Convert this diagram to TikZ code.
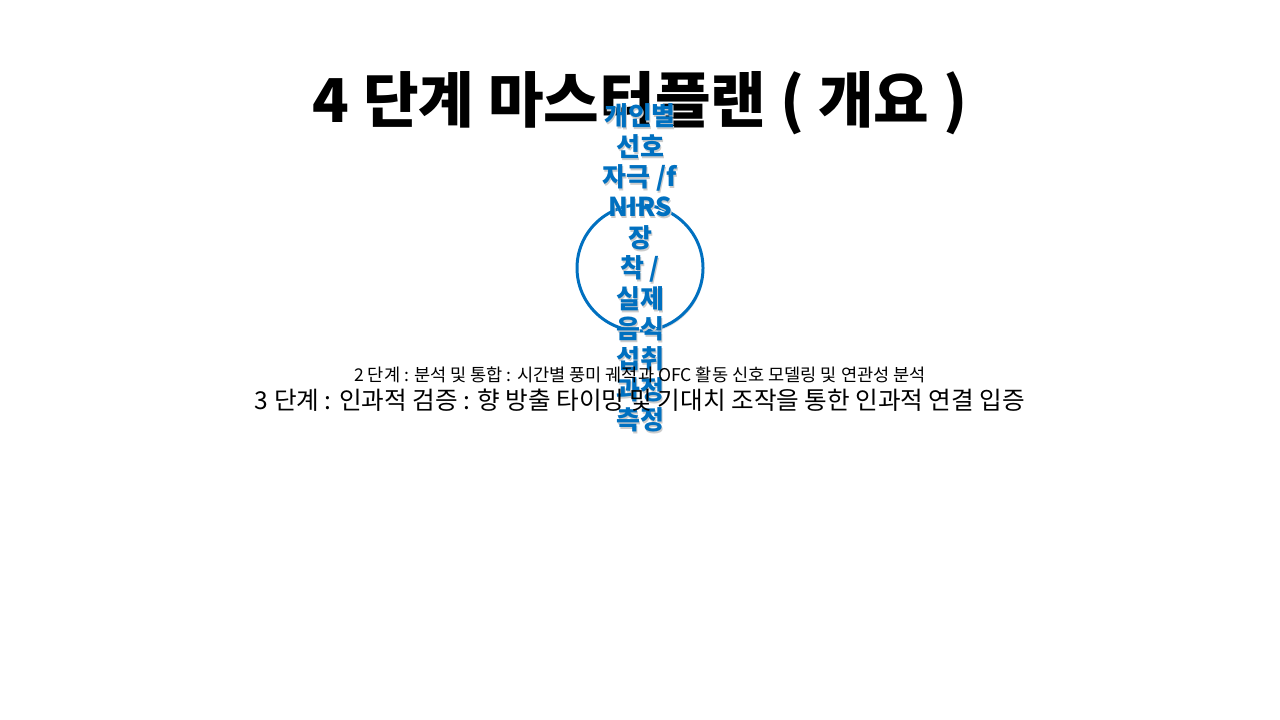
\documentclass[tikz,border=0pt]{standalone}
\usepackage{fontspec}
\setmainfont{Noto Sans CJK KR}
\usetikzlibrary{shadows}
\definecolor{stepblue}{HTML}{0070C0}

\begin{document}
\begin{tikzpicture}[x=1cm,y=1cm]
  \useasboundingbox (0,0) rectangle (12.8,7.2);
  \tikzset{
    phasetext/.style={font=\fontsize{7.0}{8}\selectfont, text=black},
    circletext/.style={font=\fontsize{7.4}{8.65}\selectfont\bfseries, align=center, text=stepblue}
  }

  % title
  \node[font=\fontsize{17.2}{19}\selectfont\bfseries] (title) at (6.4,6.17) {4 단계 마스터플랜 ( 개요 )};

  % step 1 circle
  \node[circle, draw=stepblue, line width=0.85pt, minimum size=1.26cm, fill=white,
        drop shadow={opacity=0.25, shadow xshift=0.3pt, shadow yshift=-0.6pt}] (stepone) at (6.4,4.52) {};
  \node[circletext, text=black!20] at (6.41,4.50) {개인별\\선호\\자극 /f\\NIRS\\장\\착 /\\실제\\음식\\섭취\\과정\\측정};
  \node[circletext] (steponetext) at (6.4,4.52) {개인별\\선호\\자극 /f\\NIRS\\장\\착 /\\실제\\음식\\섭취\\과정\\측정};

  % steps 2 and 3
  \node[phasetext, font=\fontsize{5.0}{6}\selectfont] (steptwo) at (6.4,3.45) {2 단계 : 분석 및 통합 : 시간별 풍미 궤적과 OFC 활동 신호 모델링 및 연관성 분석};
  \node[phasetext] (stepthree) at (6.4,3.2) {3 단계 : 인과적 검증 : 향 방출 타이밍 및 기대치 조작을 통한 인과적 연결 입증};
\end{tikzpicture}
\end{document}
